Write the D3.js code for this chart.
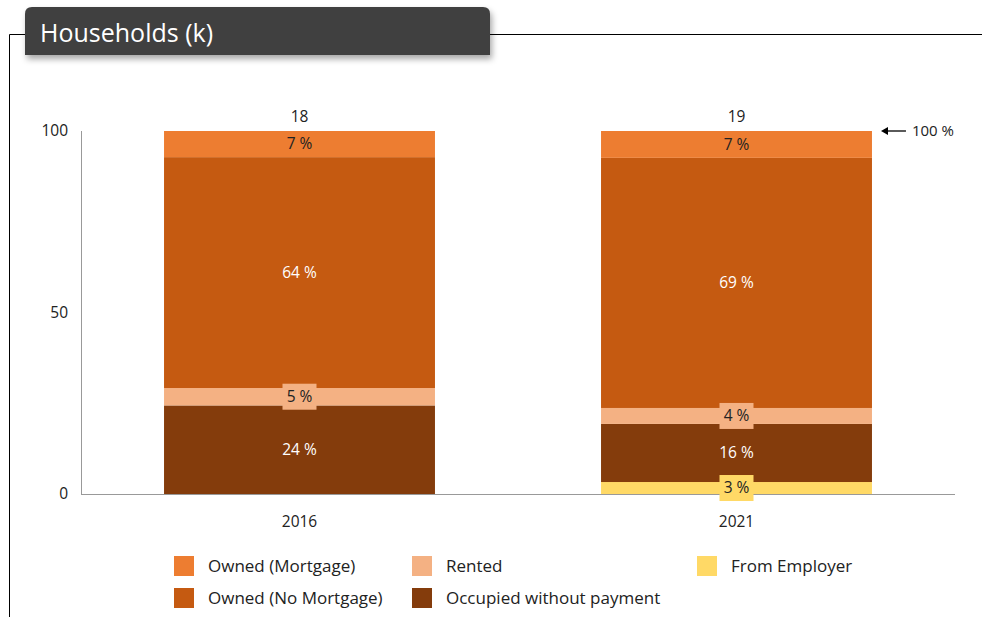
<!DOCTYPE html>
<html>
<head>
<meta charset="utf-8">
<script src="https://cdn.jsdelivr.net/npm/d3@7/dist/d3.min.js"></script>
<style>
  body { margin: 0; background: #fff; }
  svg text { font-family: "Open Sans", "DejaVu Sans", sans-serif; }
</style>
</head>
<body>
<div id="chart"></div>
<script>
// data (percent of households)
const years = ["2016", "2021"];
const totals = [18, 19]; // thousands
const seriesNames = ["Owned (Mortgage)", "Owned (No Mortgage)", "Rented", "Occupied without payment", "From Employer"];
const ownedMortgage = [7.2, 7.4];
const ownedNoMortgage = [63.6, 68.9];
const rented = [4.8, 4.4];
const unpaid = [24.4, 16.0];
const fromEmployer = [0, 3.3];
const yTicks = [0, 50, 100];

const colors = {
  "Owned (Mortgage)": "#ED7D31",
  "Owned (No Mortgage)": "#C55A11",
  "Rented": "#F4B183",
  "Occupied without payment": "#843C0C",
  "From Employer": "#FFD966"
};
const darkText = { "Owned (Mortgage)": true, "Rented": true, "From Employer": true };

const width = 982, height = 617;
const fs = 15.5;
const svg = d3.select("#chart").append("svg")
  .attr("width", width).attr("height", height);

// drop shadow for title tab
const defs = svg.append("defs");
const f = defs.append("filter").attr("id", "shadow").attr("x", "-10%").attr("y", "-30%").attr("width", "120%").attr("height", "180%");
f.append("feDropShadow").attr("dx", 2).attr("dy", 4).attr("stdDeviation", 3).attr("flood-color", "#000").attr("flood-opacity", 0.35);

// frame lines
svg.append("path")
  .attr("d", "M9.5,617 V34.5 H30 M485,34.5 H982")
  .attr("fill", "none").attr("stroke", "#000").attr("stroke-width", 1);

// title tab
svg.append("path")
  .attr("d", "M25,55 V14 Q25,7 32,7 H483 Q490,7 490,14 V55 Z")
  .attr("fill", "#404040").attr("filter", "url(#shadow)");
svg.append("text").attr("x", 40).attr("y", 42)
  .attr("fill", "#fff").attr("font-size", 25).text("Households (k)");

// scales
const x = d3.scaleBand().domain(years).range([81, 955]).paddingInner(0.38).paddingOuter(0.19);
const y = d3.scaleLinear().domain([0, 100]).range([494, 131]);

// axes
svg.append("line").attr("x1", 81.5).attr("x2", 81.5).attr("y1", y(100)).attr("y2", y(0))
  .attr("stroke", "#999");
svg.append("line").attr("x1", 81).attr("x2", 955).attr("y1", y(0) + 0.5).attr("y2", y(0) + 0.5)
  .attr("stroke", "#999");
svg.selectAll(".ytick").data(yTicks).join("text")
  .attr("x", 68).attr("y", d => y(d)).attr("dy", "0.35em")
  .attr("text-anchor", "end").attr("font-size", fs).attr("fill", "#222")
  .text(d => d);
svg.selectAll(".xtick").data(years).join("text")
  .attr("x", d => x(d) + x.bandwidth() / 2).attr("y", 522).attr("dy", "0.35em")
  .attr("text-anchor", "middle").attr("font-size", fs).attr("fill", "#222")
  .text(d => d);

// stack (bottom to top)
const rows = years.map((yr, i) => ({
  year: yr,
  "Owned (Mortgage)": ownedMortgage[i],
  "Owned (No Mortgage)": ownedNoMortgage[i],
  "Rented": rented[i],
  "Occupied without payment": unpaid[i],
  "From Employer": fromEmployer[i]
}));
const stackOrder = ["From Employer", "Occupied without payment", "Rented", "Owned (No Mortgage)", "Owned (Mortgage)"];
const stacked = d3.stack().keys(stackOrder)(rows);

const layers = svg.append("g").selectAll("g").data(stacked).join("g")
  .attr("fill", d => colors[d.key]);
layers.selectAll("rect").data(d => d.filter(s => s[1] - s[0] > 0)).join("rect")
  .attr("x", d => x(d.data.year))
  .attr("width", x.bandwidth())
  .attr("y", d => y(d[1]))
  .attr("height", d => y(d[0]) - y(d[1]));

// segment labels
stacked.forEach(layer => {
  layer.forEach(s => {
    const v = s[1] - s[0];
    if (v <= 0) return;
    const cx = x(s.data.year) + x.bandwidth() / 2;
    const cy = (y(s[0]) + y(s[1])) / 2;
    const label = Math.round(v) + " %";
    const small = y(s[0]) - y(s[1]) < 22;
    if (small) {
      svg.append("rect")
        .attr("x", cx - 17).attr("y", cy - 13)
        .attr("width", 34).attr("height", 26)
        .attr("fill", colors[layer.key]);
    }
    svg.append("text").attr("x", cx).attr("y", cy).attr("dy", "0.35em")
      .attr("text-anchor", "middle").attr("font-size", fs)
      .attr("fill", darkText[layer.key] ? "#222" : "#fff")
      .text(label);
  });
});

// totals above bars
svg.selectAll(".total").data(years).join("text")
  .attr("x", d => x(d) + x.bandwidth() / 2).attr("y", 117).attr("dy", "0.35em")
  .attr("text-anchor", "middle").attr("font-size", fs).attr("fill", "#222")
  .text((d, i) => totals[i]);

// 100 % marker
const ax = x("2021") + x.bandwidth() + 9;
svg.append("line").attr("x1", ax + 4).attr("x2", ax + 25).attr("y1", y(100)).attr("y2", y(100))
  .attr("stroke", "#000").attr("stroke-width", 1.3);
svg.append("path").attr("d", `M${ax},${y(100)} l7,-4 v8 Z`).attr("fill", "#000");
svg.append("text").attr("x", ax + 31).attr("y", y(100)).attr("dy", "0.35em")
  .attr("font-size", 15).attr("fill", "#222").text("100 %");

// legend
const legendItems = [
  { name: "Owned (Mortgage)", x: 174, y: 566 },
  { name: "Rented", x: 412, y: 566 },
  { name: "From Employer", x: 697, y: 566 },
  { name: "Owned (No Mortgage)", x: 174, y: 598 },
  { name: "Occupied without payment", x: 412, y: 598 }
];
const lg = svg.append("g").selectAll("g").data(legendItems).join("g")
  .attr("transform", d => `translate(${d.x},${d.y})`);
lg.append("rect").attr("x", 0).attr("y", -10).attr("width", 20).attr("height", 20)
  .attr("fill", d => colors[d.name]);
lg.append("text").attr("x", 34).attr("y", 0).attr("dy", "0.35em")
  .attr("font-size", 17).attr("fill", "#222").text(d => d.name);
</script>
</body>
</html>
